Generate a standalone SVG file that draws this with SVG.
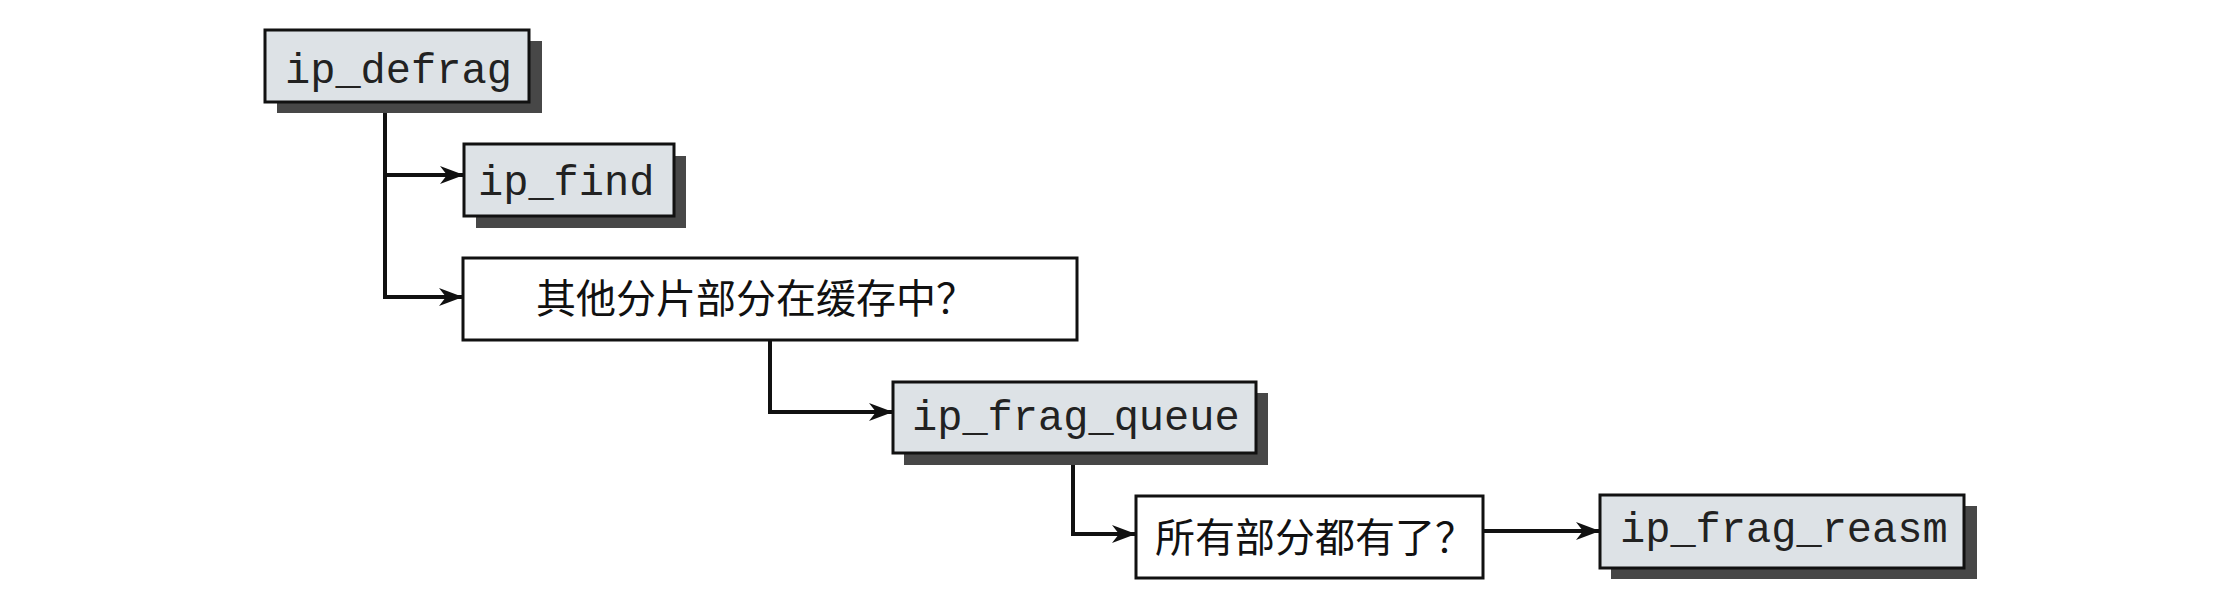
<svg xmlns="http://www.w3.org/2000/svg" width="2237" height="609" viewBox="0 0 2237 609">
<style>
.box{fill:#dde2e6;stroke:#111;stroke-width:3}
.wbox{fill:#fff;stroke:#111;stroke-width:3}
.shadow{fill:#474747}
.code{font-family:"Liberation Mono","DejaVu Sans Mono",monospace;font-size:42px;fill:#222}
.cjk{font-family:"Noto Sans CJK SC",sans-serif;font-size:40px;fill:#111}
.conn{fill:none;stroke:#111;stroke-width:4;marker-end:url(#arr)}
</style>
<defs>
<marker id="arr" markerUnits="userSpaceOnUse" viewBox="0 0 24 18" refX="23" refY="9" markerWidth="24" markerHeight="18" orient="auto">
<path d="M0,0 L24,9 L0,18 L7,9 z" fill="#111"/>
</marker>
</defs>
<rect width="2237" height="609" fill="#fff"/>
<g id="connectors">
<path class="conn" d="M385 102 V175 H463"/>
<path class="conn" d="M385 170 V297 H462"/>
<path class="conn" d="M770 341 V412 H892"/>
<path class="conn" d="M1073 453 V534 H1135"/>
<path class="conn" d="M1483 531 H1599"/>
</g>
<g id="ip_defrag">
<rect class="shadow" x="277" y="41" width="265" height="72"/>
<rect class="box" x="265" y="30" width="264" height="72"/>
<text class="code" x="285" y="83">ip_defrag</text>
</g>
<g id="ip_find">
<rect class="shadow" x="476" y="156" width="210" height="72"/>
<rect class="box" x="464" y="144" width="210" height="72"/>
<text class="code" x="478" y="195">ip_find</text>
</g>
<g id="q_cache">
<rect class="wbox" x="463" y="258" width="614" height="82"/>
<text class="cjk" x="536" y="313">其他分片部分在缓存中？</text>
</g>
<g id="ip_frag_queue">
<rect class="shadow" x="904" y="393" width="364" height="72"/>
<rect class="box" x="893" y="382" width="363" height="71"/>
<text class="code" x="912" y="430">ip_frag_queue</text>
</g>
<g id="q_all">
<rect class="wbox" x="1136" y="496" width="347" height="82"/>
<text class="cjk" x="1155" y="552">所有部分都有了？</text>
</g>
<g id="ip_frag_reasm">
<rect class="shadow" x="1611" y="506" width="366" height="73"/>
<rect class="box" x="1600" y="495" width="364" height="73"/>
<text class="code" x="1620" y="542">ip_frag_reasm</text>
</g>
</svg>
